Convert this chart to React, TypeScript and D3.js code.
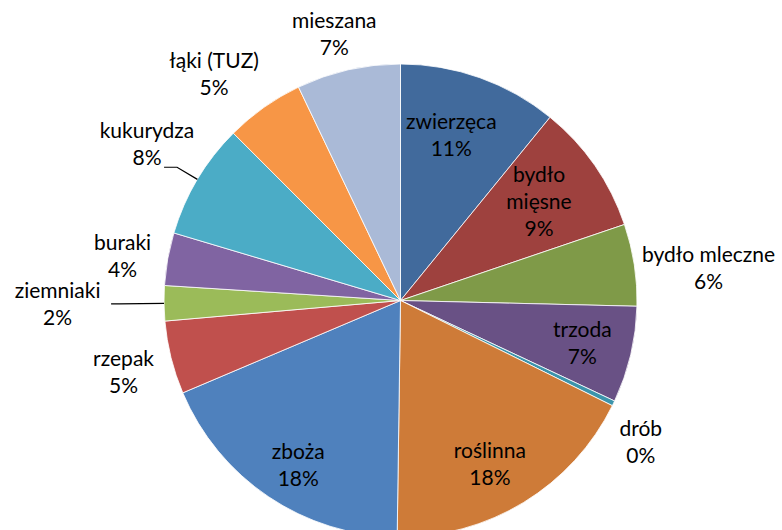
import * as d3 from 'd3';

// slices clockwise from 12 o'clock
const categories = [
  'zwierzęca', 'bydło mięsne', 'bydło mleczne', 'trzoda', 'drób', 'roślinna',
  'zboża', 'rzepak', 'ziemniaki', 'buraki', 'kukurydza', 'łąki (TUZ)', 'mieszana',
];
const shares = [10.9, 8.9, 5.6, 6.6, 0.35, 17.9, 18.4, 5.0, 2.4, 3.6, 7.9, 5.4, 7.1];
const colors = [
  '#416a9c', '#9e413e', '#7f9a48', '#695185', '#3c94ab', '#ce7b38',
  '#4f81bd', '#c0504d', '#9bbb59', '#8064a2', '#4bacc6', '#f79646', '#aabad7',
];
// label placement: radius factor and angle nudge (deg) from slice middle
const labelRadius = [0.73, 0.72, 1.31, 0.79, 1.18, 0.79, 0.82, 1.21, 1.45, 1.19, 1.26, 1.24, 1.16];
const labelNudge = [-2.5, -0.8, 2.6, 0, 4.8, 2.8, -2.1, -0.6, 0, -1, 0.9, -4.2, -1.2];
const wrapped = ['bydło mięsne'];
// leader lines: slice index -> [elbow radius factor, horizontal length]
const leaders: Record<number, [number, number]> = { 8: [1.19, 8], 10: [1.10, 13] };

const width = 782;
const height = 530;
const cx = 400.5;
const cy = 300.5;
const radius = 236.5;
const fontSize = 21;
const lineStep = 27;

const polar = (a: number, rr: number): [number, number] => [cx + rr * Math.sin(a), cy - rr * Math.cos(a)];

export default function App() {
  const pie = d3.pie<number>().sort(null).value(d => d);
  const arcs = pie(shares);
  const arc = d3.arc<d3.PieArcDatum<number>>().innerRadius(0).outerRadius(radius);

  return (
    <svg width={width} height={height} style={{ position: 'absolute', left: 0, top: 0, background: '#fff' }}
      fontFamily="Lato, 'Open Sans', sans-serif" fontSize={fontSize}>
      <g transform={`translate(${cx},${cy})`}>
        {arcs.map((a, i) => (
          <path key={i} d={arc(a) || ''} fill={colors[i]} stroke="#ffffff" strokeWidth={0.8} />
        ))}
      </g>
      {arcs.map((a, i) => {
        const mid = (a.startAngle + a.endAngle) / 2;
        const la = mid + (labelNudge[i] * Math.PI) / 180;
        const [lx, ly] = polar(la, labelRadius[i] * radius);
        const name = categories[i];
        const lines = wrapped.includes(name) ? name.split(' ') : [name];
        lines.push(Math.round(shares[i]) + '%');
        const n = lines.length;
        let leader = null;
        if (leaders[i]) {
          const [ef, len] = leaders[i];
          const p0 = polar(mid, radius);
          const p1 = polar(mid, ef * radius);
          const p2: [number, number] = [p1[0] - len, p1[1]];
          leader = <polyline points={[p0, p1, p2].map(p => p.join(',')).join(' ')} fill="none" stroke="#000" strokeWidth={1.2} />;
        }
        return (
          <g key={i}>
            {leader}
            {lines.map((t, j) => (
              <text key={j} x={lx} y={ly + (j - (n - 1) / 2) * lineStep} dy="0.35em" textAnchor="middle" fill="#000">
                {t}
              </text>
            ))}
          </g>
        );
      })}
    </svg>
  );
}
